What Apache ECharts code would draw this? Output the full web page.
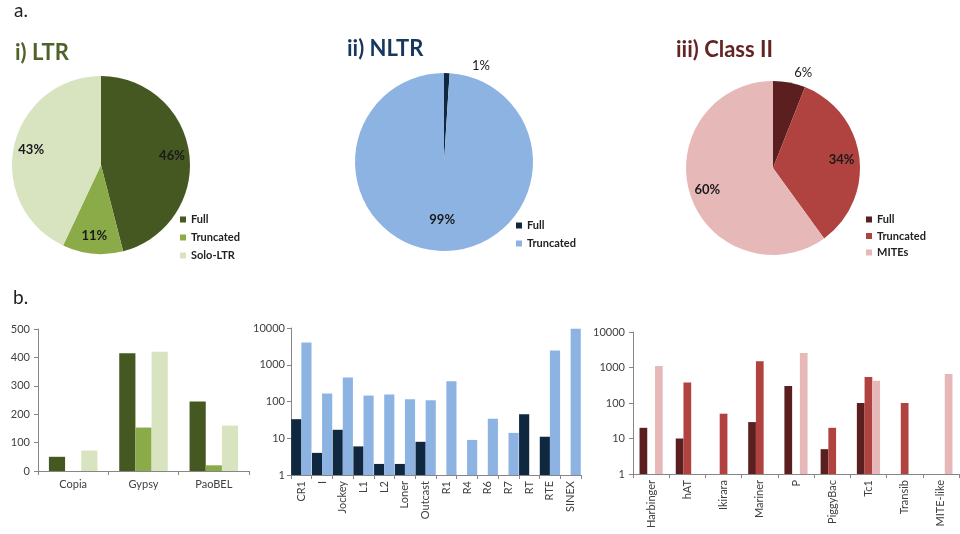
<!DOCTYPE html>
<html><head><meta charset="utf-8">
<script src="https://cdn.jsdelivr.net/npm/echarts@6/dist/echarts.min.js"></script>
<style>html,body{margin:0;padding:0;background:#fff}#c{width:960px;height:534px}</style>
</head><body><div id="c"></div><script>
// ---- data ----
const ltrNames = ['Full', 'Truncated', 'Solo-LTR'];
const ltrPct = [46, 11, 43];
const nltrNames = ['Full', 'Truncated'];
const nltrPct = [1, 99];
const c2Names = ['Full', 'Truncated', 'MITEs'];
const c2Pct = [6, 34, 60];

const ltrCats = ['Copia', 'Gypsy', 'PaoBEL'];
const ltrFull = [50, 415, 245];
const ltrTrunc = [0, 153, 20];
const ltrSolo = [72, 420, 160];

const nltrCats = ['CR1', 'I', 'Jockey', 'L1', 'L2', 'Loner', 'Outcast', 'R1', 'R4', 'R6', 'R7', 'RT', 'RTE', 'SINEX'];
const nltrFull = [33, 4, 17, 6, 2, 2, 8, null, null, null, null, 45, 11, null];
const nltrTrunc = [4000, 165, 450, 145, 155, 115, 108, 355, 9, 34, 14, null, 2450, 9600];

const c2Cats = ['Harbinger', 'hAT', 'Ikirara', 'Mariner', 'P', 'PiggyBac', 'Tc1', 'Transib', 'MITE-like'];
const c2Full = [20, 10, null, 29, 300, 5, 100, null, null];
const c2Trunc = [null, 375, 50, 1500, null, 20, 540, 100, null];
const c2Mite = [1100, null, null, null, 2550, null, 420, null, 660];

const linTicks = [0, 100, 200, 300, 400, 500];
const logTicks = [1, 10, 100, 1000, 10000];

// ---- styles ----
const FF = 'Lato, "Open Sans", sans-serif';
const ltrColors = ['#465822', '#8aab48', '#d8e3c0'];
const nltrColors = ['#10283f', '#8db3e2'];
const c2Colors = ['#5b1f1f', '#b04240', '#e6b9b8'];
const axisCol = '#868686';
const lblCol = '#404040';

const chart = echarts.init(document.getElementById('c'), null, { renderer: 'canvas' });

function pies(prefix, names, vals, colors, center, r, k, outside) {
  const lblStyle = { fontFamily: FF, fontSize: 13, fontWeight: 'bold', color: '#1a1a1a' };
  const main = {
    type: 'pie', center: center, radius: [0, r], startAngle: 90, clockwise: true,
    avoidLabelOverlap: false, animation: false, silent: true,
    emphasis: { disabled: true },
    itemStyle: { borderWidth: 0 },
    data: names.map((n, i) => {
      const o = outside[i];
      const d = { name: prefix + '|' + n, value: vals[i], itemStyle: { color: colors[i] } };
      if (o) {
        d.label = Object.assign({ show: true, position: 'outside', distanceToLabelLine: o.dist, formatter: '{c}%' }, lblStyle, { fontWeight: 'normal' });
        d.labelLine = { show: false, length: o.len, length2: o.len2 };
      } else {
        d.label = { show: false };
      }
      return d;
    })
  };
  const overlay = {
    type: 'pie', center: center, radius: [0, 2 * k * r], startAngle: 90, clockwise: true,
    avoidLabelOverlap: false, animation: false, silent: true, legendHoverLink: false,
    emphasis: { disabled: true },
    itemStyle: { color: 'rgba(0,0,0,0)', borderWidth: 0 },
    label: Object.assign({ show: true, position: 'inside', formatter: '{c}%' }, lblStyle),
    labelLine: { show: false },
    data: names.map((n, i) => ({ name: prefix + '|' + n, value: vals[i], label: { show: !outside[i] } }))
  };
  return [main, overlay];
}

const series = [].concat(
  pies('LTR', ltrNames, ltrPct, ltrColors, [101, 165], 89, 0.77, [null, null, null]),
  pies('NLTR', nltrNames, nltrPct, nltrColors, [444, 162], 89, 0.62, [{ len: 7, len2: 20, dist: 5 }, null]),
  pies('C2', c2Names, c2Pct, c2Colors, [773, 168], 87, 0.76, [{ len: 10, len2: 0, dist: 3 }, null, null])
);

function bar(name, data, color, ax, gap) {
  return { type: 'bar', name: name, data: data, xAxisIndex: ax, yAxisIndex: ax, barGap: '0%', barCategoryGap: gap,
    itemStyle: { color: color }, animation: false, silent: true };
}
series.push(
  bar('LTR Full', ltrFull, ltrColors[0], 0, '31%'),
  bar('LTR Truncated', ltrTrunc, ltrColors[1], 0, '31%'),
  bar('LTR Solo-LTR', ltrSolo, ltrColors[2], 0, '31%'),
  bar('NLTR Full', nltrFull, nltrColors[0], 1, '2%'),
  bar('NLTR Truncated', nltrTrunc, nltrColors[1], 1, '2%'),
  bar('C2 Full', c2Full, c2Colors[0], 2, '36%'),
  bar('C2 Truncated', c2Trunc, c2Colors[1], 2, '36%'),
  bar('C2 MITEs', c2Mite, c2Colors[2], 2, '36%')
);

function xAx(gi, cats, rotate) {
  return {
    type: 'category', gridIndex: gi, data: cats,
    axisLine: { lineStyle: { color: axisCol, width: 1 } },
    axisTick: { show: true, length: 4, lineStyle: { color: axisCol } },
    axisLabel: { interval: 0, rotate: rotate, margin: rotate ? 6 : 8, color: lblCol, fontFamily: FF, fontSize: 11 }
  };
}
function yAx(gi, log, margin) {
  const base = {
    gridIndex: gi, min: log ? logTicks[0] : linTicks[0], max: log ? logTicks[logTicks.length - 1] : linTicks[linTicks.length - 1],
    axisLine: { show: true, lineStyle: { color: axisCol, width: 1 } },
    axisTick: { show: true, length: 4, lineStyle: { color: axisCol } },
    splitLine: { show: false },
    axisLabel: { margin: margin, color: lblCol, fontFamily: FF, fontSize: 11, formatter: v => String(Math.round(v)) }
  };
  if (log) { base.type = 'log'; base.logBase = 10; }
  else { base.type = 'value'; base.interval = linTicks[1] - linTicks[0]; }
  return base;
}

const legendBase = {
  orient: 'vertical', icon: 'rect', itemWidth: 6, itemHeight: 6, selectedMode: false, padding: 0,
  textStyle: { fontFamily: FF, fontSize: 11, fontWeight: 'bold', color: '#222' },
  formatter: n => n.split('|')[1]
};

const option = {
  backgroundColor: '#fff',
  animation: false,
  title: [
    { text: 'a.', left: 14, top: 1, padding: 0, textStyle: { fontFamily: FF, fontSize: 19, fontWeight: 'normal', color: '#222' } },
    { text: 'i) LTR', left: 15, top: 42, padding: 0, textStyle: { fontFamily: FF, fontSize: 22, fontWeight: 'bold', color: '#4f6228' } },
    { text: 'ii) NLTR', left: 347, top: 38, padding: 0, textStyle: { fontFamily: FF, fontSize: 22, fontWeight: 'bold', color: '#17375e' } },
    { text: 'iii) Class II', left: 676, top: 39, padding: 0, textStyle: { fontFamily: FF, fontSize: 22, fontWeight: 'bold', color: '#632523' } },
    { text: 'b.', left: 13, top: 288, padding: 0, textStyle: { fontFamily: FF, fontSize: 19, fontWeight: 'normal', color: '#222' } }
  ],
  legend: [
    Object.assign({}, legendBase, { left: 180, top: 214, itemGap: 7, data: ltrNames.map(n => 'LTR|' + n) }),
    Object.assign({}, legendBase, { left: 516, top: 220, itemGap: 7, data: nltrNames.map(n => 'NLTR|' + n) }),
    Object.assign({}, legendBase, { left: 866, top: 214, itemGap: 5.5, data: c2Names.map(n => 'C2|' + n) })
  ],
  grid: [
    { left: 38, top: 329, width: 211, height: 142 },
    { left: 291, top: 328, width: 290, height: 147 },
    { left: 633, top: 332, width: 326, height: 142 }
  ],
  xAxis: [xAx(0, ltrCats, 0), xAx(1, nltrCats, 90), xAx(2, c2Cats, 90)],
  yAxis: [yAx(0, false, 8), yAx(1, true, 6), yAx(2, true, 8)],
  series: series
};
chart.setOption(option);
</script></body></html>
